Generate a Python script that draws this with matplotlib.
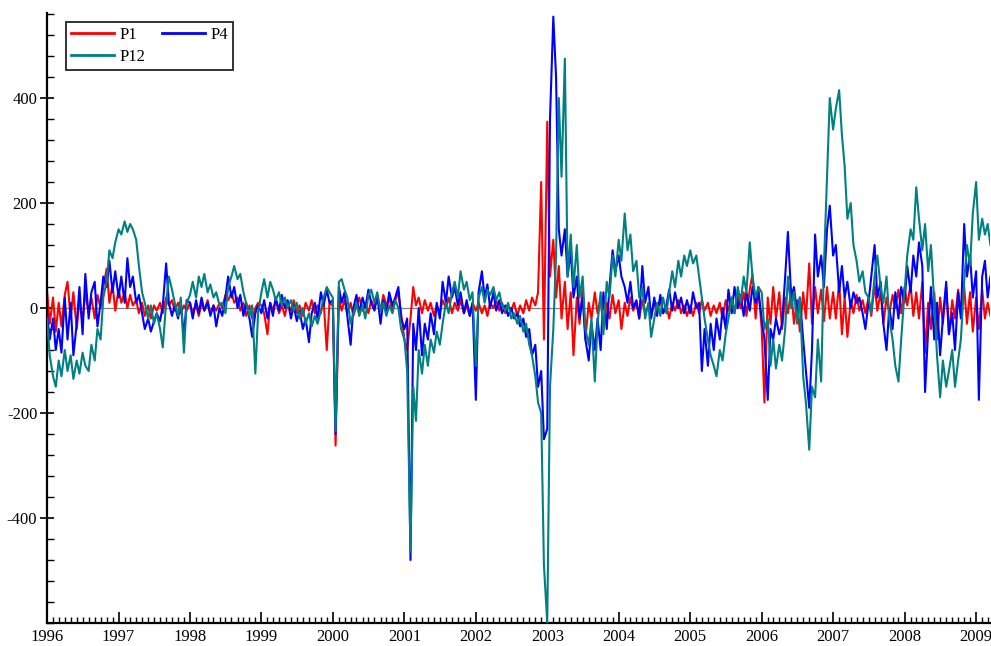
import numpy as np
import pandas as pd
import matplotlib
matplotlib.use("Agg")
import matplotlib.pyplot as plt
import matplotlib.dates as mdates
from matplotlib.ticker import FixedLocator, MultipleLocator

plt.rcParams['font.family'] = ['Liberation Serif', 'DejaVu Serif']
plt.rcParams['axes.unicode_minus'] = False

# semi-monthly observations, Jan 1996 - Mar 2009
dates = pd.date_range("1996-01-01", periods=318, freq="SMS")

p1 = [
    35, -30, 20, -45, 10, -35, 25, 50, -20, 30, -40, 15, -25, 30, -10, 20, -20, 25, 0, 40, 75, 10, 45, -5,  # 1996
    35, 10, 30, 0, 25, 5, 15, -10, 10, -15, 5, -20, 5, -5, 10, -10, 20, 5, 15, -5, 10, -10, 5, -5,  # 1997
    10, -10, 5, -15, 10, -5, 15, -10, 5, -5, 10, 0, 25, 15, 30, 10, 20, -5, 10, -15, 5, -20, 0, 10,  # 1998
    5, -10, -50, 10, -5, 15, -10, 5, -15, 10, -5, 15, -10, 5, -15, 10, -5, 15, -10, 5, -10, 15, -80, 10,  # 1999
    5, -262, 20, -5, 15, -10, 10, -15, 5, 20, -5, 10, -10, 15, 0, 20, -5, 25, 5, 20, -5, 15, 30, -10,  # 2000
    -60, -80, -20, 40, 5, 20, -10, 15, -5, 10, -15, 5, -10, 15, 0, 20, -10, 10, -5, 15, -10, 5, -15, 10,  # 2001
    -5, 10, -10, 5, -15, 10, 0, 15, -5, 10, -10, 5, -5, 10, -15, 5, -10, 15, -5, 20, 5, 30, 240, -60,  # 2002
    355, 60, 130, 20, 80, -20, 50, -40, 30, -90, 20, -30, 40, -60, 10, -20, 30, -10, 20, -40, 10, -20, 25, -10,  # 2003
    15, -40, 10, -15, 20, -5, 10, -20, 15, -10, 5, -15, 10, -5, 15, -10, 5, -20, 10, -5, 15, -10, 5, -15,  # 2004
    5, -15, 10, -10, 15, -5, 10, -15, 5, -10, 10, -20, 15, -5, 20, -10, 25, 0, 30, -15, 35, 65, -20, 40,  # 2005
    -40, -180, 20, -30, 40, -20, 30, -40, 20, -10, 35, -30, 15, -45, 30, -20, 85, -30, 40, -10, 35, -25, 40, -20,  # 2006
    30, -20, 50, -50, 20, -55, 15, -10, 25, -5, 15, -10, 20, -15, 45, -5, 30, -30, 20, -10, 25, 0, 35, -10,  # 2007
    40, 5, 45, -15, 30, -20, 50, -85, 10, -40, 30, -60, 20, -30, 40, -50, 15, -20, 35, -10, 40, -30, 30, -45,  # 2008
    20, -40, 35, -20, 10, -15,  # 2009
]

p4 = [
    -10, -60, -20, -80, -40, -85, 20, -60, 10, -90, -30, 40, -50, 65, -20, 30, 50, -35, 10, 60, 40, 90, 30, 70,  # 1996
    20, 60, 10, 95, 40, 60, 10, 25, -10, -40, -20, -45, -25, -10, -25, 5, 85, 10, -15, 5, -20, 10, -55, 15,  # 1997
    10, -20, 15, -10, 20, -5, 10, -15, 5, -35, 0, -15, 20, 60, 20, 40, 0, 25, -15, 10, -20, -55, -10, 5,  # 1998
    -10, 15, -20, 10, -15, 20, -5, 25, 0, 15, -20, 5, -25, -5, -40, -20, -65, -10, 10, -20, 30, 5, 35, 10,  # 1999
    15, -240, 40, 10, 30, -15, -70, 0, 25, -10, 20, 0, 35, 10, -5, 25, -30, 15, -10, 30, 5, 20, 40, -20,  # 2000
    -40, -20, -480, -30, -80, 0, -90, -30, -60, -10, -50, 10, -20, 50, 10, 60, 20, 40, 5, 30, -10, 15, -15, 10,  # 2001
    -175, 30, 70, 20, 45, 0, 30, -5, 15, -10, 5, -15, 0, -20, -10, -35, -20, -55, -40, -90, -70, -150, -120, -250,  # 2002
    -230, 360, 555, 440, 150, 100, 150, 60, 110, 20, 60, -20, 20, -60, -100, -30, -80, -20, -80, 30, -40, 40, 110, 70,  # 2003
    100, 60, 40, 10, 50, 0, 15, -20, 80, 10, 40, -20, 20, -15, 25, -10, 5, 35, -5, 30, 0, 20, -10, 15,  # 2004
    -10, 30, 0, 10, -120, -40, -110, -30, -80, -20, -60, 0, -40, 35, -10, 40, 0, 25, -15, 30, -5, 40, 10, 30,  # 2005
    -20, -60, -175, -40, -60, -20, -50, -30, 60, 145, 20, 40, -10, 20, -60, -120, -190, -80, 140, 60, 100, 40, 150, 195,  # 2006
    100, 120, 30, 80, 20, 50, 0, 30, 10, 20, -10, -40, 10, 60, 120, 20, 50, -30, -80, 0, -40, 30, -20, 40,  # 2007
    10, 80, 30, 100, 60, 125, 80, -160, -40, 40, -60, 10, -90, -20, 50, -50, -10, -80, 30, -20, 160, 60, 100, 20,  # 2008
    70, -175, 60, 90, 20, 60,  # 2009
]

p12 = [
    -20, -90, -130, -150, -100, -130, -80, -120, -90, -135, -100, -125, -85, -110, -120, -70, -100, -40, -60, 20, 50, 110, 95, 125,  # 1996
    150, 140, 165, 145, 160, 150, 130, 80, 30, 10, -20, 5, -30, -10, -40, -75, 10, 60, 35, 10, -15, 20, -85, 10,  # 1997
    25, 50, 20, 60, 40, 65, 30, 45, 20, 30, 5, 10, -10, 40, 60, 80, 55, 65, 30, 10, -15, 5, -125, -10,  # 1998
    30, 55, 20, 50, 35, 15, 30, 5, 20, 0, 15, -5, 10, -20, 0, -30, -10, -35, -15, -30, -5, 20, 40, 30,  # 1999
    20, -235, 50, 55, 35, 20, -30, -10, 10, -15, 5, -20, 25, 35, 10, 30, -5, 10, -15, 5, -10, 15, 0, -40,  # 2000
    -60, -120, -465, -150, -215, -80, -125, -70, -110, -60, -85, -45, -70, -30, 10, -10, 30, 50, 20, 70, 35, 50, 15, 30,  # 2001
    -110, 20, 40, 10, 35, 25, 40, 15, 30, 5, -5, 10, -20, -10, -30, -15, -45, -30, -70, -90, -130, -180, -200, -490,  # 2002
    -600, -150, -40, 100, 400, 250, 475, 60, 140, 40, 120, 20, 60, -40, -70, -20, -140, -30, 30, -50, 50, 20, 100, 60,  # 2003
    130, 90, 180, 110, 140, 70, 90, 20, 40, -20, 10, -55, -20, 10, -15, 20, -10, 30, 70, 40, 90, 60, 100, 80,  # 2004
    110, 85, 100, 60, 20, -20, -60, -90, -110, -130, -80, -100, -50, -20, 20, -10, 40, 10, 60, 30, 125, 60, 20, 40,  # 2005
    30, -40, -20, -110, -60, -115, -70, -100, -40, 60, 0, 30, -30, 20, -130, -180, -270, -150, -170, -60, -140, 80, 250, 400,  # 2006
    340, 380, 415, 330, 270, 170, 200, 120, 90, 50, 70, 30, 20, -10, 60, 100, 40, 10, 60, -20, -60, -110, -140, -60,  # 2007
    30, 100, 150, 130, 230, 170, 110, 160, 70, 120, 10, -90, -170, -100, -150, -120, -80, -150, -100, -60, 50, 120, 80, 180,  # 2008
    240, 130, 170, 140, 160, 120,  # 2009
]

fig = plt.figure(figsize=(9.91, 6.46), dpi=100)
ax = fig.add_axes([0.0474, 0.0356, 0.952, 0.9443])

ax.axhline(0, color="#808080", lw=0.9, zorder=1)
l1, = ax.plot(dates, p1, color="#ff0000", lw=1.5, label="P1", zorder=2)
l4, = ax.plot(dates, p4, color="#0000ff", lw=1.5, label="P4", zorder=3)
l12, = ax.plot(dates, p12, color="#008080", lw=1.5, label="P12", zorder=4)

ax.set_xlim(pd.Timestamp("1996-01-01"), dates[-1])
ax.set_ylim(-600, 562)

ax.xaxis.set_major_locator(mdates.YearLocator())
ax.xaxis.set_major_formatter(mdates.DateFormatter("%Y"))
ax.xaxis.set_minor_locator(mdates.MonthLocator())
ax.yaxis.set_major_locator(FixedLocator([-400, -200, 0, 200, 400]))
ax.yaxis.set_minor_locator(MultipleLocator(40))

for s in ["top", "right"]:
    ax.spines[s].set_visible(False)
for s in ["left", "bottom"]:
    ax.spines[s].set_linewidth(1.6)

ax.tick_params(axis="x", which="major", direction="in", length=8, width=1.2, labelsize=12, pad=4)
ax.tick_params(axis="x", which="minor", direction="in", length=4, width=1.0)
ax.tick_params(axis="y", which="major", direction="inout", length=10, width=1.2, labelsize=12, pad=2)
ax.tick_params(axis="y", which="minor", direction="in", length=5, width=1.0)

leg = ax.legend(handles=[l1, l12, l4], ncol=2, loc="upper left",
                bbox_to_anchor=(0.02, 0.985), borderaxespad=0, fontsize=12,
                fancybox=False, edgecolor="black", handlelength=2.6,
                labelspacing=0.35, columnspacing=1.0, borderpad=0.3,
                handletextpad=0.3)
leg.get_frame().set_linewidth(1.4)
for h in leg.get_lines():
    h.set_linewidth(2.0)

fig.savefig("out.png", dpi=100)
